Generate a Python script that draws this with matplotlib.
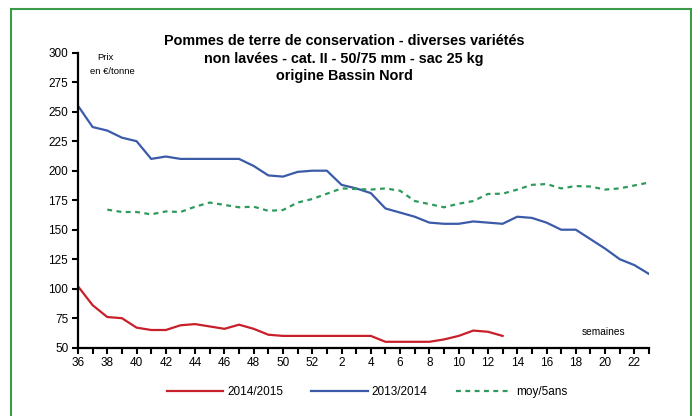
import numpy as np
import matplotlib
matplotlib.use("Agg")
import matplotlib.pyplot as plt
from matplotlib.patches import Rectangle
from matplotlib.lines import Line2D

plt.rcParams['font.family'] = ['Liberation Sans', 'DejaVu Sans']

weeks = [str(w) for w in range(36, 53)] + [str(w) for w in range(1, 24)]

s_2014_2015 = [102, 86, 76, 75, 67, 65, 65, 69, 70, 68, 66, 69.5, 66, 61, 60,
               60, 60, 60, 60, 60, 60, 55, 55, 55, 55, 57, 60, 64.5, 63.5, 60]
s_2013_2014 = [255, 237, 234, 228, 225, 210, 212, 210, 210, 210, 210, 210, 204,
               196, 195, 199, 200, 200, 188, 185, 181, 168, 164.5, 161, 156, 155,
               155, 157, 156, 155, 161, 160, 156, 150, 150, 142, 134, 125, 120, 112.5]
s_moy5ans = [None, None, 167, 165, 165, 163, 165.5, 165, 169.5, 173, 171, 169,
             169.5, 166, 166.7, 173, 176, 180.5, 185, 184.5, 184, 185, 183, 174.3,
             171.7, 169, 172, 174.3, 180.3, 180.5, 184, 188, 188.7, 185, 187, 186.6,
             184, 185, 187.5, 190]

labels = ["2014/2015", "2013/2014", "moy/5ans"]
title = ("Pommes de terre de conservation - diverses variétés\n"
         "non lavées - cat. II - 50/75 mm - sac 25 kg\n"
         "origine Bassin Nord")
yticks = list(range(50, 301, 25))


def pad(vals, n):
    arr = np.full(n, np.nan)
    for i, v in enumerate(vals):
        if v is not None:
            arr[i] = v
    return arr


n = len(weeks)
x = np.arange(n)

fig = plt.figure(figsize=(6.92, 4.16), dpi=100)
ax = fig.add_axes([78 / 692, 1 - 347.7 / 416, (649 - 78) / 692, (347.7 - 52.7) / 416])

red = '#c8202a'
blue = '#3b5ba9'
green = '#2e9a5c'

l1, = ax.plot(x, pad(s_2014_2015, n), color=red, lw=1.6, label=labels[0])
l2, = ax.plot(x, pad(s_2013_2014, n), color=blue, lw=1.6, label=labels[1])
l3, = ax.plot(x, pad(s_moy5ans, n), color=green, lw=1.6, ls=(0, (2.2, 2.0)), label=labels[2])

ax.set_xlim(0, n - 1)
ax.set_ylim(50, 300)
ax.set_yticks(yticks)
ax.set_xticks(x)
ax.set_xticklabels([w if i % 2 == 0 else '' for i, w in enumerate(weeks)])
for s in ['top', 'right']:
    ax.spines[s].set_visible(False)
for s in ['left', 'bottom']:
    ax.spines[s].set_linewidth(1.6)
    ax.spines[s].set_color('black')
ax.tick_params(direction='out', length=4, width=1.5, labelsize=8.5, colors='black', pad=3)

ax.text(0.92, 0.053, 'semaines', transform=ax.transAxes, ha='center', va='center', fontsize=7.3)
fig.text(105 / 692, 1 - 57 / 416, 'Prix', ha='center', va='center', fontsize=6.8)
fig.text(112 / 692, 1 - 72 / 416, 'en €/tonne', ha='center', va='center', fontsize=6.8)

fig.text(344 / 692, 1 - 58.5 / 416, title, ha='center', va='center', fontsize=10.4,
         fontweight='bold', linespacing=1.3)

handles = [Line2D([], [], color=red, lw=1.6),
           Line2D([], [], color=blue, lw=1.6),
           Line2D([], [], color=green, lw=1.6, ls=(0, (2.2, 2.0)))]
fig.legend(handles, labels, loc='center', bbox_to_anchor=(367 / 692, 1 - 392 / 416),
           ncol=3, frameon=False, fontsize=8.5, handlelength=4.8, handletextpad=0.3,
           columnspacing=2.4)

fig.patches.append(Rectangle((11 / 692, -0.1), (691 - 11) / 692, 1.1 - 9 / 416,
                             transform=fig.transFigure, fill=False,
                             edgecolor='#3c9b48', lw=1.5))

fig.savefig('out.png', dpi=100)
